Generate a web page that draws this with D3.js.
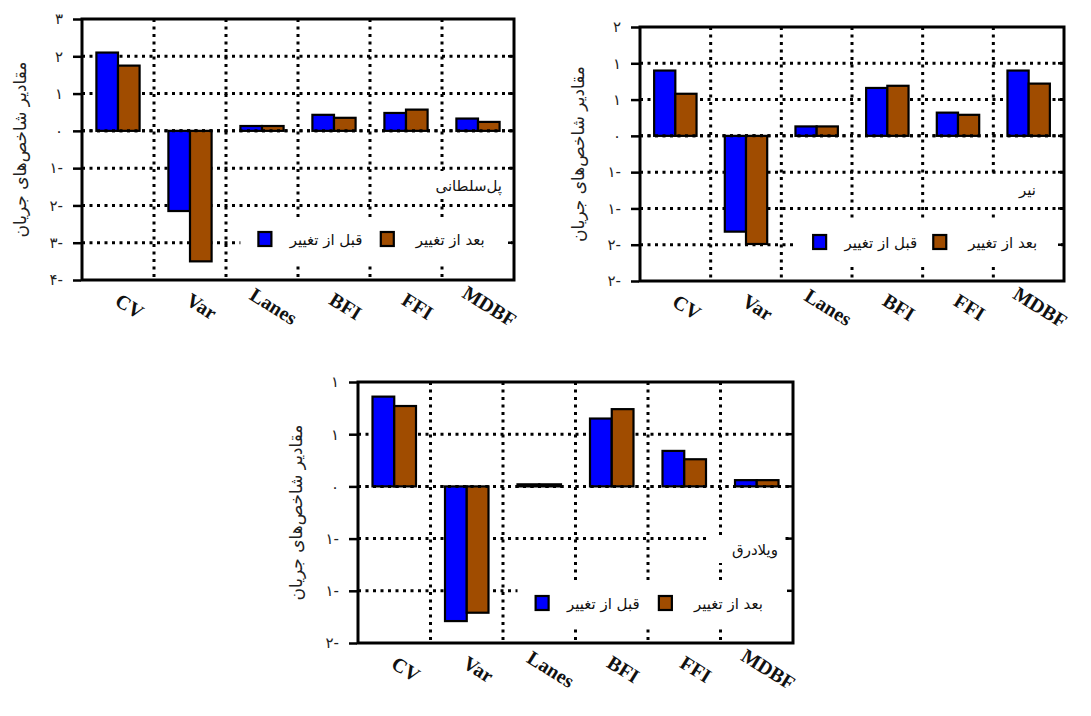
<!DOCTYPE html>
<html><head><meta charset="utf-8">
<script src="https://cdn.jsdelivr.net/npm/d3@7"></script>
<style>body{margin:0;background:#fff}</style>
</head><body>
<svg id="c" width="1091" height="716"></svg>
<script>
var categories = ['CV', 'Var', 'Lanes', 'BFI', 'FFI', 'MDBF'];
var seriesNames = ['قبل از تغییر', 'بعد از تغییر'];
var seriesColors = ['#0000ff', '#a04c00'];

var polBefore = [2.1, -2.15, 0.13, 0.43, 0.48, 0.33];
var polAfter = [1.75, -3.5, 0.13, 0.35, 0.57, 0.24];
var polTicks = [3, 2, 1, 0, -1, -2, -3, -4];

var nirBefore = [0.9, -1.32, 0.13, 0.66, 0.32, 0.9];
var nirAfter = [0.58, -1.49, 0.13, 0.69, 0.29, 0.72];
var nirTicks = [1.5, 1, 0.5, 0, -0.5, -1, -1.5, -2];

var vilBefore = [0.86, -1.29, 0.02, 0.65, 0.34, 0.06];
var vilAfter = [0.77, -1.21, 0.02, 0.74, 0.26, 0.06];
var vilTicks = [1, 0.5, 0, -0.5, -1, -1.5];

var svg = d3.select('#c');
var fa = '۰۱۲۳۴۵۶۷۸۹';

function faNum(v) {
  var r = Math.round(Math.abs(v));
  var s = String(r).replace(/\d/g, function (d) { return fa[d]; });
  return v < 0 ? s + '-' : s;
}

function drawPanel(cfg) {
  var g = svg.append('g');
  var x = d3.scaleBand().domain(categories).range([cfg.x0, cfg.x1]);
  var y = d3.scaleLinear().domain([cfg.ticks[cfg.ticks.length - 1], cfg.ticks[0]]).range([cfg.y1, cfg.y0]);
  var pad = x.bandwidth() * 0.2;
  var bw = (x.bandwidth() - 2 * pad) / 2;
  var dot = { w: 3, d: '3,4.5' };

  // grid
  g.selectAll('.hg').data(cfg.ticks.slice(1, -1)).enter().append('line')
    .attr('x1', cfg.x0).attr('x2', cfg.x1)
    .attr('y1', function (d) { return y(d); }).attr('y2', function (d) { return y(d); })
    .attr('stroke', '#000').attr('stroke-width', dot.w).attr('stroke-dasharray', dot.d);
  g.selectAll('.vg').data(categories.slice(1)).enter().append('line')
    .attr('x1', function (d) { return x(d); }).attr('x2', function (d) { return x(d); })
    .attr('y1', cfg.y0).attr('y2', cfg.y1)
    .attr('stroke', '#000').attr('stroke-width', dot.w).attr('stroke-dasharray', dot.d);

  // label and legend backgrounds
  g.append('rect').attr('x', cfg.lx - 70).attr('y', cfg.ly - 15).attr('width', 75).attr('height', 28).attr('fill', '#fff');
  g.append('rect').attr('x', cfg.x0 + x.bandwidth() * 2.2).attr('y', cfg.legY - 22)
    .attr('width', cfg.x1 - cfg.x0 - x.bandwidth() * 2.2 - 3).attr('height', 46).attr('fill', '#fff');

  // bars
  [cfg.before, cfg.after].forEach(function (vals, si) {
    g.selectAll('.b' + si).data(vals).enter().append('rect')
      .attr('x', function (d, i) { return x(categories[i]) + pad + si * bw; })
      .attr('y', function (d) { return y(Math.max(0, d)); })
      .attr('width', bw)
      .attr('height', function (d) { return Math.max(2, Math.abs(y(d) - y(0))); })
      .attr('fill', seriesColors[si]).attr('stroke', '#000').attr('stroke-width', 2.2);
  });
  g.append('line').attr('x1', cfg.x0).attr('x2', cfg.x1).attr('y1', y(0)).attr('y2', y(0))
    .attr('stroke', '#000').attr('stroke-width', dot.w).attr('stroke-dasharray', dot.d);

  // frame
  g.append('rect').attr('x', cfg.x0).attr('y', cfg.y0).attr('width', cfg.x1 - cfg.x0).attr('height', cfg.y1 - cfg.y0)
    .attr('fill', 'none').attr('stroke', '#000').attr('stroke-width', 3);

  // y axis
  var ax = g.append('g').attr('transform', 'translate(' + (cfg.x0 - 1) + ',0)')
    .call(d3.axisLeft(y).tickValues(cfg.ticks).tickFormat(faNum).tickSize(8).tickPadding(10));
  ax.select('.domain').remove();
  ax.selectAll('line').attr('stroke-width', 2.5);
  ax.selectAll('text').attr('font-family', 'DejaVu Sans').attr('font-size', 15).attr('fill', '#222');
  g.selectAll('.rt').data(cfg.ticks.slice(1, -1)).enter().append('line')
    .attr('x1', cfg.x1 - 6).attr('x2', cfg.x1).attr('y1', function (d) { return y(d); }).attr('y2', function (d) { return y(d); })
    .attr('stroke', '#000').attr('stroke-width', 2.5);

  g.append('text').attr('transform', 'translate(' + (cfg.x0 - 56) + ',' + ((cfg.y0 + cfg.y1) / 2) + ') rotate(-90)')
    .attr('text-anchor', 'middle').attr('font-family', 'DejaVu Sans').attr('font-size', 17).attr('fill', '#222')
    .text('مقادیر شاخص‌های جریان');

  // x labels
  g.selectAll('.xl').data(categories).enter().append('text')
    .attr('transform', function (d) { return 'translate(' + (x(d) + x.bandwidth() / 2 + 8) + ',' + (cfg.y1 + 32) + ') rotate(32)'; })
    .attr('text-anchor', 'middle').attr('font-family', 'Liberation Serif').attr('font-weight', 'bold')
    .attr('font-size', 20).attr('fill', '#111').text(function (d) { return d; });

  // station label
  g.append('text').attr('x', cfg.lx).attr('y', cfg.ly + 5).attr('text-anchor', 'end')
    .attr('font-family', 'DejaVu Sans').attr('font-size', 15).attr('fill', '#111').text(cfg.label);

  // legend
  var lg = g.append('g');
  var lxs = [cfg.x0 + x.bandwidth() * 2.45, cfg.x0 + x.bandwidth() * 4.15];
  seriesNames.forEach(function (n, i) {
    lg.append('rect').attr('x', lxs[i]).attr('y', cfg.legY - 8).attr('width', 13).attr('height', 14)
      .attr('fill', seriesColors[i]).attr('stroke', '#000').attr('stroke-width', 2.2);
    lg.append('text').attr('x', lxs[i] + 104).attr('y', cfg.legY + 5).attr('text-anchor', 'end')
      .attr('font-family', 'DejaVu Sans').attr('font-size', 15).attr('fill', '#111').text(n);
  });
}

drawPanel({ x0: 82, x1: 514, y0: 19, y1: 280, ticks: polTicks, before: polBefore, after: polAfter,
  label: 'پل‌سلطانی', lx: 502, ly: 186, legY: 240 });
drawPanel({ x0: 640, x1: 1064, y0: 27, y1: 281, ticks: nirTicks, before: nirBefore, after: nirAfter,
  label: 'نیر', lx: 1036, ly: 190, legY: 243 });
drawPanel({ x0: 358, x1: 793, y0: 382, y1: 643, ticks: vilTicks, before: vilBefore, after: vilAfter,
  label: 'ویلادرق', lx: 778, ly: 550, legY: 604 });
</script>
</body></html>
